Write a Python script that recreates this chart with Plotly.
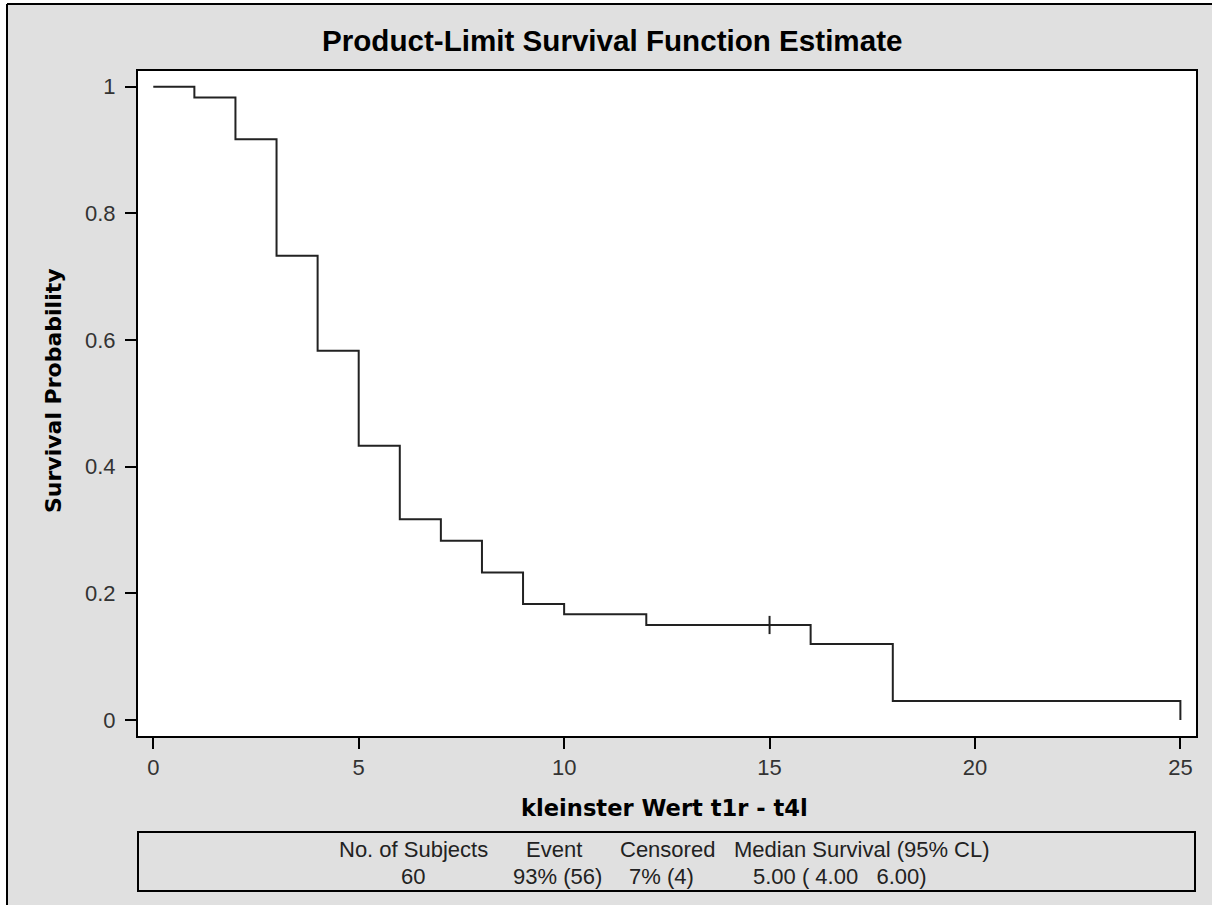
import plotly.graph_objects as go

# ---- data ----
times = [0, 1, 2, 3, 4, 5, 6, 7, 8, 9, 10, 12, 16, 18, 25]
survival = [1.0, 0.983, 0.917, 0.733, 0.583, 0.433, 0.317, 0.283, 0.233, 0.183,
            0.167, 0.150, 0.120, 0.030, 0.0]
censor_times = [15]
censor_surv = [0.150]

x_ticks = [0, 5, 10, 15, 20, 25]
y_ticks = [0, 0.2, 0.4, 0.6, 0.8, 1.0]

title_text = "Product-Limit Survival Function Estimate"
x_title = "kleinster Wert t1r - t4l"
y_title = "Survival Probability"

table_header = ["No. of Subjects", "Event", "Censored", "Median Survival (95% CL)"]
table_values = ["60", "93% (56)", "7% (4)", "5.00 (\u00a04.00\u00a0\u00a0\u00a06.00)"]

# ---- layout geometry (pixels) ----
W, H = 1212, 905
L, R, T, B = 138, 1196, 71, 736
PW, PH = R - L, B - T


def px(xp):
    return (xp - L) / PW


def py(yp):
    return (B - yp) / PH


BG = "#e0e0e0"
INK = "#222222"

fig = go.Figure()
fig.add_trace(go.Scatter(
    x=times, y=survival, mode="lines", line=dict(shape="hv", color=INK, width=2),
    showlegend=False, hoverinfo="skip"))
fig.add_trace(go.Scatter(
    x=censor_times, y=censor_surv, mode="markers",
    marker=dict(symbol="line-ns", size=13, line=dict(color=INK, width=2)),
    showlegend=False, hoverinfo="skip"))

axis_common = dict(showline=True, linewidth=2, linecolor="black", mirror=True,
                   ticks="outside", ticklen=11, tickwidth=2, tickcolor="black",
                   showgrid=False, zeroline=False,
                   tickfont=dict(family="Liberation Sans, Arial", size=22, color="#333333"))

fig.update_xaxes(range=[-0.372, 25.38], tickvals=x_ticks, **axis_common)
fig.update_yaxes(range=[-0.0253, 1.0248], tickvals=y_ticks, ticklabelstandoff=5, **axis_common)

annotations = [
    dict(text="<b>" + title_text + "</b>", x=px(611.5), y=py(40), xref="paper", yref="paper",
         xanchor="center", yanchor="middle", showarrow=False,
         font=dict(family="Liberation Sans, Arial", size=29.6, color="black")),
    dict(text="<b>" + x_title + "</b>", x=px(664.5), y=py(808), xref="paper", yref="paper",
         xanchor="center", yanchor="middle", showarrow=False,
         font=dict(family="DejaVu Sans", size=22.6, color="black")),
    dict(text="<b>" + y_title + "</b>", x=px(53), y=py(391), xref="paper", yref="paper",
         xanchor="center", yanchor="middle", showarrow=False, textangle=-90,
         font=dict(family="DejaVu Sans", size=22, color="black")),
]

header_centers = [413.5, 553.5, 667, 862]
value_centers = [413, 557.5, 661, 840]
for txt, cx in zip(table_header, header_centers):
    annotations.append(dict(text=txt, x=px(cx), y=py(849), xref="paper", yref="paper",
                            xanchor="center", yanchor="middle", showarrow=False,
                            font=dict(family="Liberation Sans, Arial", size=22, color="#222222")))
for txt, cx in zip(table_values, value_centers):
    annotations.append(dict(text=txt, x=px(cx), y=py(876), xref="paper", yref="paper",
                            xanchor="center", yanchor="middle", showarrow=False,
                            font=dict(family="Liberation Sans, Arial", size=22, color="#222222")))

shapes = [
    # white strips outside the outer frame
    dict(type="rect", xref="paper", yref="paper", x0=px(0), x1=px(7), y0=py(H), y1=py(0),
         fillcolor="white", line=dict(width=0), layer="above"),
    dict(type="rect", xref="paper", yref="paper", x0=px(0), x1=px(W), y0=py(4), y1=py(0),
         fillcolor="white", line=dict(width=0), layer="above"),
    # gray strip on the right edge (frame is cropped there)
    dict(type="rect", xref="paper", yref="paper", x0=px(1199), x1=px(W), y0=py(H), y1=py(5),
         fillcolor=BG, line=dict(width=0), layer="above"),
    # outer frame lines (left and top)
    dict(type="line", xref="paper", yref="paper", x0=px(7), x1=px(7), y0=py(4), y1=py(H),
         line=dict(color="black", width=2), layer="above"),
    dict(type="line", xref="paper", yref="paper", x0=px(7), x1=px(W), y0=py(4), y1=py(4),
         line=dict(color="black", width=2), layer="above"),
    # statistics box
    dict(type="rect", xref="paper", yref="paper", x0=px(138), x1=px(1195), y0=py(891), y1=py(832),
         line=dict(color="black", width=2), fillcolor="rgba(0,0,0,0)", layer="above"),
]

fig.update_layout(
    width=W, height=H, autosize=False,
    margin=dict(l=L, r=W - R, t=T, b=H - B, pad=0),
    paper_bgcolor=BG, plot_bgcolor="white",
    annotations=annotations, shapes=shapes,
    showlegend=False,
)

fig.write_html("out.html",
               config={"displayModeBar": False},
               post_script=("document.documentElement.style.overflow='hidden';"
                            "document.body.style.margin='0';"
                            "document.body.style.overflow='hidden';"))
